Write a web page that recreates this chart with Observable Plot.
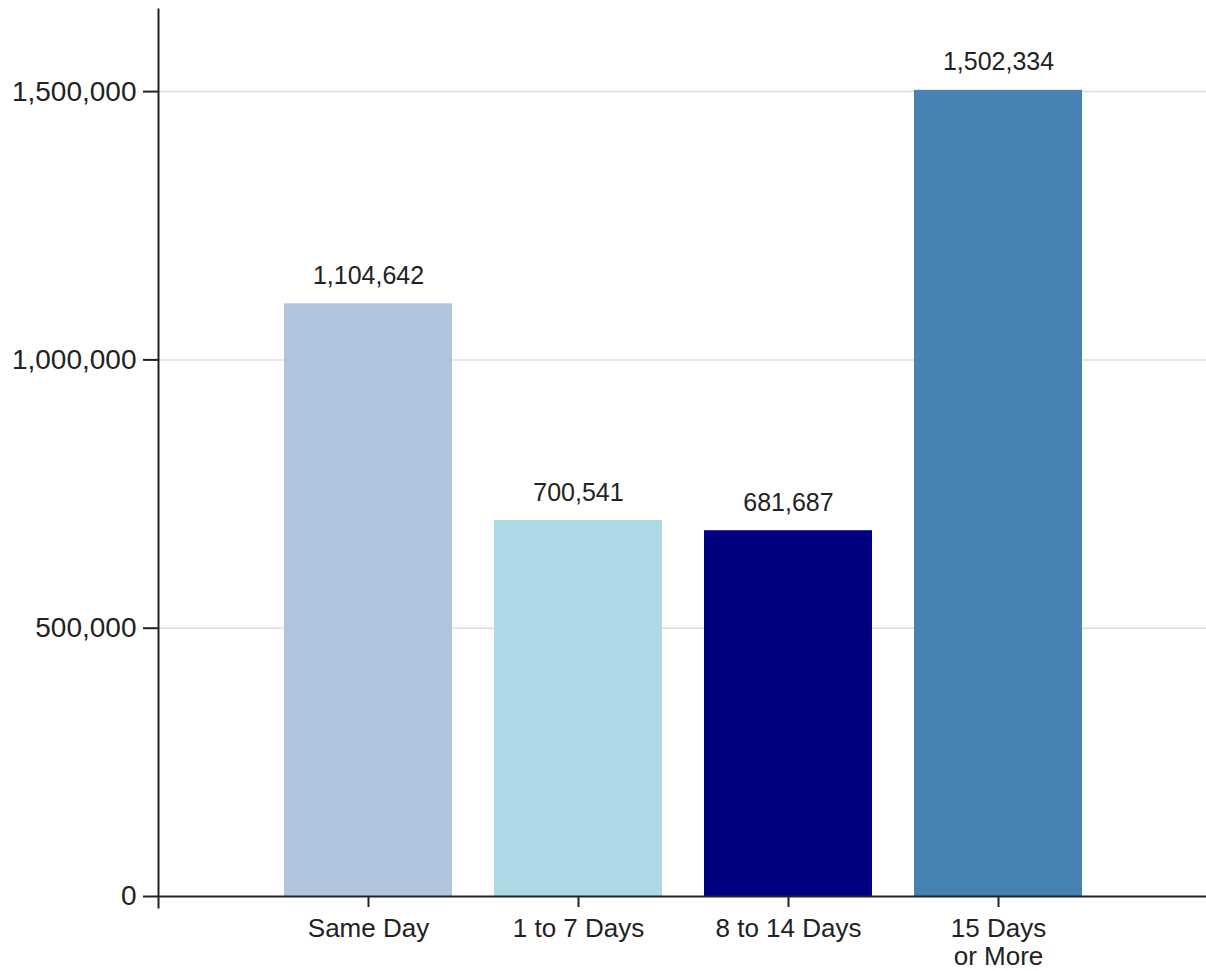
<!DOCTYPE html>
<html>
<head>
<meta charset="utf-8">
<script src="https://cdn.jsdelivr.net/npm/d3@7"></script>
<script src="https://cdn.jsdelivr.net/npm/@observablehq/plot@0.6"></script>
<style>
  html, body { margin: 0; padding: 0; background: #fff; }
  #chart svg { display: block; }
</style>
</head>
<body>
<div id="chart"></div>
<script>
const categories = ["Same Day", "1 to 7 Days", "8 to 14 Days", "15 Days\nor More"];
const values = [1104642, 700541, 681687, 1502334];
const yTicks = [0, 500000, 1000000, 1500000];
const palette = ["#B0C4DE", "#ADD8E6", "#000080", "#4682B4"];

const data = categories.map((c, i) => ({cat: c, value: values[i]}));
const fmt = d3.format(",");
const yMin = -20500, yMax = 1653000;

const chart = Plot.plot({
  width: 1206,
  height: 971,
  marginLeft: 158,
  marginRight: 0,
  marginTop: 9,
  marginBottom: 64,
  style: {fontFamily: "'Liberation Sans', Arial, sans-serif", color: "#222", background: "#fff"},
  x: {domain: categories, padding: 0.2, insetLeft: 83, insetRight: 81, label: null},
  y: {domain: [yMin, yMax], label: null},
  color: {domain: categories, range: palette},
  marks: [
    Plot.ruleY(yTicks.filter(d => d > 0), {stroke: "#dcdcdc", strokeWidth: 1.5}),
    Plot.barY(data, {x: "cat", y: "value", fill: "cat"}),
    Plot.text(data, {x: "cat", y: "value", text: d => fmt(d.value), lineAnchor: "bottom", dy: -20, fontSize: 25, fill: "#222"}),
    Plot.ruleY([0], {stroke: "#222", strokeWidth: 2}),
    Plot.ruleX(categories, {x: d => d, y1: 0, y2: yMin, stroke: "#222", strokeWidth: 2}),
    Plot.frame({anchor: "left", stroke: "#222", strokeWidth: 2}),
    Plot.axisY({ticks: yTicks, tickSize: 15, tickPadding: 7, tickFormat: fmt, fontSize: 28, strokeWidth: 2, label: null}),
    Plot.axisX({tickSize: 0, tickPadding: 10, fontSize: 26, lineHeight: 1.07, label: null})
  ]
});
document.getElementById("chart").appendChild(chart);
</script>
</body>
</html>
